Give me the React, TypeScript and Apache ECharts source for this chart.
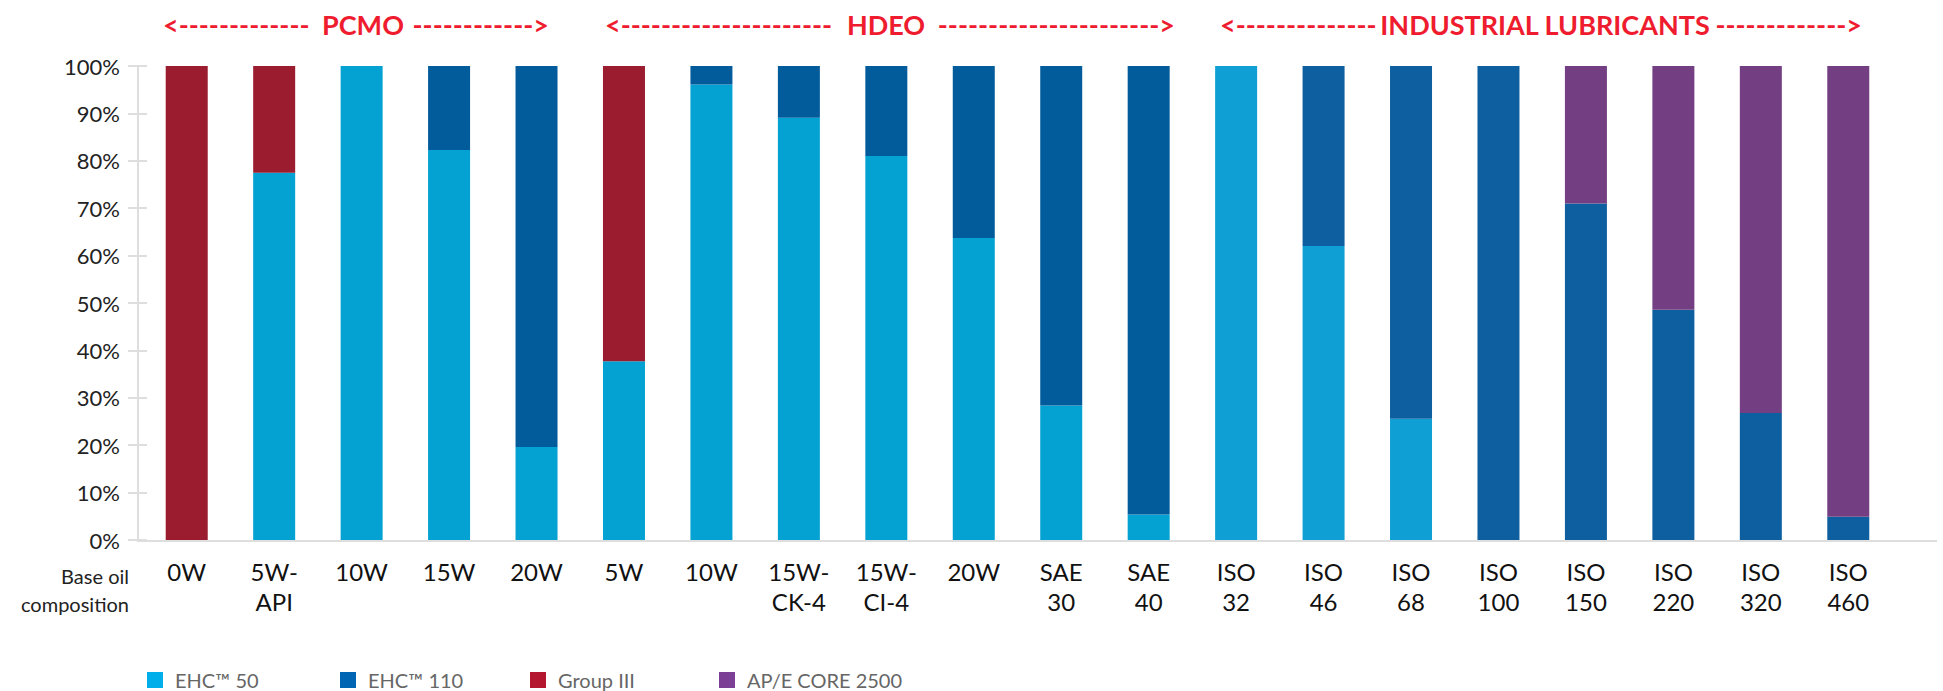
import React, { useEffect, useRef } from "react";
import * as echarts from "echarts";

const categories = [
  "0W", "5W-\nAPI", "10W", "15W", "20W",
  "5W", "10W", "15W-\nCK-4", "15W-\nCI-4", "20W", "SAE\n30", "SAE\n40",
  "ISO\n32", "ISO\n46", "ISO\n68", "ISO\n100", "ISO\n150", "ISO\n220", "ISO\n320", "ISO\n460",
];

const ehc50 = [0, 77.5, 100, 82.3, 19.6, 37.7, 96.1, 89.1, 81, 63.7, 28.4, 5.4, 100, 62, 25.6, 0, 0, 0, 0, 0];
const ehc110 = [0, 0, 0, 17.7, 80.4, 0, 3.9, 10.9, 19, 36.3, 71.6, 94.6, 0, 38, 74.4, 100, 71, 48.6, 26.8, 4.9];
const group3 = [100, 22.5, 0, 0, 0, 62.3, 0, 0, 0, 0, 0, 0, 0, 0, 0, 0, 0, 0, 0, 0];
const apeCore = [0, 0, 0, 0, 0, 0, 0, 0, 0, 0, 0, 0, 0, 0, 0, 0, 29, 51.4, 73.2, 95.1];

const seriesNames = ["EHC™ 50", "EHC™ 110", "Group III", "AP/E CORE 2500"];
const yTicks = [0, 10, 20, 30, 40, 50, 60, 70, 80, 90, 100];

const sectionWords = ["PCMO", "HDEO", "INDUSTRIAL LUBRICANTS"];
const sectionLeftArrows = ["<-------------", "<---------------------", "<--------------"];
const sectionRightArrows = ["------------>", "---------------------->", "------------->"];

// colours
const barColorsMain = ["#04a2d2", "#025c9c", "#9b1c2e", "#743f82"];
const barColorsIndustrial = ["#0f9fd4", "#0e5f9f", "#9b1c2e", "#743f82"];
const legendColors = ["#00aee9", "#0066b3", "#b5162f", "#7b3f95"];
const INDUSTRIAL_START = 12;

const FONT = "Lato, 'Open Sans', sans-serif";

export default function App() {
  const ref = useRef<HTMLDivElement>(null);

  useEffect(() => {
    if (!ref.current) return;
    const chart = echarts.init(ref.current, undefined, { renderer: "svg" });
    const seriesData = [ehc50, ehc110, group3, apeCore];

    const series = seriesData.map((arr, si) => ({
      name: seriesNames[si],
      type: "bar",
      stack: "total",
      barWidth: 42,
      yAxisIndex: 0,
      data: arr.map((v, i) => ({
        value: v,
        itemStyle: {
          color: i >= INDUSTRIAL_START ? barColorsIndustrial[si] : barColorsMain[si],
        },
      })),
    }));

    const legendLefts = [147, 340, 530, 719];
    const legends = seriesNames.map((n, i) => ({
      data: [{ name: n, itemStyle: { color: legendColors[i] } }],
      left: legendLefts[i],
      top: 670,
      padding: 0,
      itemWidth: 16,
      itemHeight: 16,
      icon: "rect",
      selectedMode: false,
      textStyle: { fontSize: 20, color: "#666", fontFamily: FONT, padding: [0, 0, 0, 7] },
    }));

    // title layout: [arrow start, word centre, arrow end]
    const titleLayout = [
      [163, 363, 549],
      [605, 886, 1175],
      [1220, 1545, 1862],
    ];
    const titleFont = `bold 27px ${FONT}`;
    const titleColor = "#ee1c2e";
    const titleY = 24;
    const titleGraphics: any[] = [];
    sectionWords.forEach((w, i) => {
      const [x0, xc, x1] = titleLayout[i];
      titleGraphics.push(
        {
          type: "text", x: x0, y: titleY,
          style: { text: sectionLeftArrows[i], textAlign: "left", textVerticalAlign: "middle", fill: titleColor, font: titleFont },
        },
        {
          type: "text", x: xc, y: titleY,
          style: { text: w, textAlign: "center", textVerticalAlign: "middle", fill: titleColor, font: titleFont },
        },
        {
          type: "text", x: x1, y: titleY,
          style: { text: sectionRightArrows[i], textAlign: "right", textVerticalAlign: "middle", fill: titleColor, font: titleFont },
        }
      );
    });

    chart.setOption({
      animation: false,
      grid: { left: 143, right: 51, top: 66, bottom: 151, containLabel: false },
      legend: legends,
      xAxis: {
        type: "category",
        data: categories,
        axisLine: { show: false },
        axisTick: { show: false },
        axisLabel: {
          interval: 0,
          fontSize: 24,
          lineHeight: 30,
          color: "#111",
          margin: 16,
          fontFamily: FONT,
        },
      },
      yAxis: [
        {
          type: "value",
          min: yTicks[0],
          max: yTicks[yTicks.length - 1],
          interval: 10,
          offset: 5,
          axisLine: { show: true, lineStyle: { color: "#dedede", width: 2 } },
          axisTick: { show: true, length: 10, lineStyle: { color: "#dedede", width: 2 } },
          axisLabel: {
            formatter: "{value}%",
            fontSize: 22,
            color: "#222",
            margin: 18,
            fontFamily: FONT,
          },
          splitLine: { show: false },
        },
        {
          type: "value",
          position: "left",
          min: yTicks[0],
          max: yTicks[yTicks.length - 1],
          interval: 10,
          offset: 5,
          axisLine: { show: false },
          axisTick: { show: true, inside: true, length: 9, lineStyle: { color: "#dedede", width: 2 } },
          axisLabel: { show: false },
          splitLine: { show: false },
        },
      ],
      series,
      graphic: [
        {
          type: "line",
          shape: { x1: 137, y1: 541, x2: 1937, y2: 541 },
          style: { stroke: "#dedede", lineWidth: 2 },
          z: 0,
        },
        ...titleGraphics,
        {
          type: "text",
          x: 129,
          y: 590,
          style: {
            text: "Base oil\ncomposition",
            textAlign: "right",
            textVerticalAlign: "middle",
            fill: "#222",
            font: `20px ${FONT}`,
            lineHeight: 28,
          },
        },
      ],
    });

    return () => chart.dispose();
  }, []);

  return (
    <div
      ref={ref}
      style={{ position: "fixed", left: 0, top: 0, width: 1943, height: 691, background: "#fff" }}
    />
  );
}
